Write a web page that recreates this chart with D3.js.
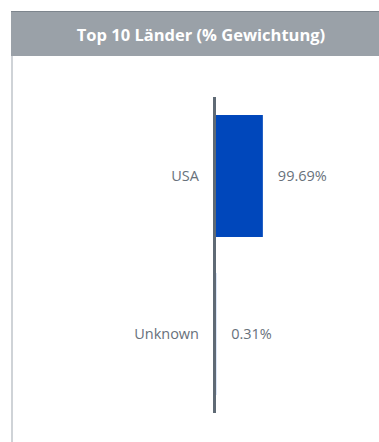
<!DOCTYPE html>
<html><head><meta charset="utf-8">
<script src="https://cdn.jsdelivr.net/npm/d3@7"></script>
<style>
html,body{margin:0;padding:0;background:#fff;}
svg{display:block;}
</style></head>
<body>
<div id="chart"></div>
<script>
const title = "Top 10 Länder (% Gewichtung)";
const countries = ["USA", "Unknown"];
const weights = [99.69, 0.31];
const valueLabels = ["99.69%", "0.31%"];

const W = 379, H = 442;
const svg = d3.select("#chart").append("svg").attr("width", W).attr("height", H);

// panel border
svg.append("rect").attr("x", 11).attr("y", 11).attr("width", 2).attr("height", H - 11).attr("fill", "#cfd3d7");
// header
svg.append("rect").attr("x", 11).attr("y", 11).attr("width", W - 11).attr("height", 45).attr("fill", "#9aa1a8");
svg.append("rect").attr("x", 11).attr("y", 11).attr("width", W - 11).attr("height", 1).attr("fill", "#7d858d");
svg.append("text").attr("x", 201).attr("y", 41).attr("text-anchor", "middle")
  .attr("font-family", "'Open Sans', sans-serif").attr("font-weight", 700).attr("font-size", 16.5)
  .attr("fill", "#fff").text(title);

const x0 = 216;
const x = d3.scaleLinear().domain([0, 100]).range([x0, x0 + 47]);
const y = d3.scaleBand().domain(countries).range([97, 413]).paddingInner(0.228).paddingOuter(0.114);

const data = countries.map((c, i) => ({c, v: weights[i], l: valueLabels[i]}));

svg.selectAll("rect.bar").data(data).enter().append("rect").attr("class", "bar")
  .attr("x", x(0)).attr("y", d => y(d.c)).attr("width", d => x(d.v) - x(0)).attr("height", y.bandwidth())
  .attr("fill", "#0047bb");

// axis line
svg.append("rect").attr("x", x0 - 3).attr("y", 97).attr("width", 3).attr("height", 316).attr("fill", "#5f6a75");

svg.selectAll("text.cat").data(data).enter().append("text").attr("class", "cat")
  .attr("x", 199).attr("y", d => y(d.c) + y.bandwidth() / 2).attr("dy", "0.35em")
  .attr("text-anchor", "end").attr("font-family", "'Open Sans', sans-serif").attr("font-size", 14.5)
  .attr("fill", "#68717b").text(d => d.c);

svg.selectAll("text.val").data(data).enter().append("text").attr("class", "val")
  .attr("x", d => x(d.v) + 15).attr("y", d => y(d.c) + y.bandwidth() / 2).attr("dy", "0.35em")
  .attr("text-anchor", "start").attr("font-family", "'Open Sans', sans-serif").attr("font-size", 14.5)
  .attr("fill", "#68717b").text(d => d.l);
</script>
</body></html>
